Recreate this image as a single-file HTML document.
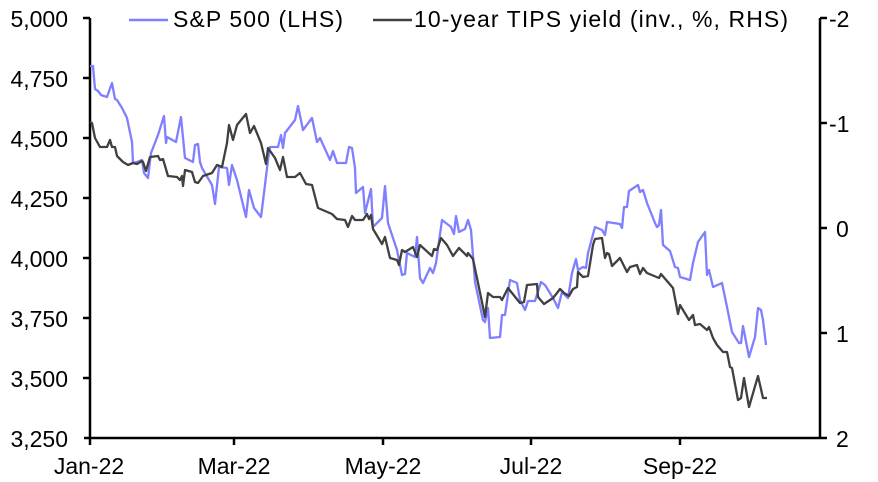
<!DOCTYPE html>
<html><head><meta charset="utf-8"><style>
html,body{margin:0;padding:0;background:#fff;}
svg{display:block;font-family:"Liberation Sans",sans-serif;}
</style></head><body>
<svg width="878" height="482" viewBox="0 0 878 482">
<g stroke="#000" stroke-width="2.5" fill="none">
<line x1="90" y1="18" x2="90" y2="439"/>
<line x1="820" y1="18" x2="820" y2="439"/>
<line x1="84" y1="438" x2="820" y2="438"/>
<line x1="83" y1="18" x2="90" y2="18"/><line x1="83" y1="78" x2="90" y2="78"/><line x1="83" y1="138" x2="90" y2="138"/><line x1="83" y1="198" x2="90" y2="198"/><line x1="83" y1="258" x2="90" y2="258"/><line x1="83" y1="318" x2="90" y2="318"/><line x1="83" y1="378" x2="90" y2="378"/>
<line x1="820" y1="18" x2="827" y2="18"/><line x1="820" y1="123" x2="827" y2="123"/><line x1="820" y1="228" x2="827" y2="228"/><line x1="820" y1="333" x2="827" y2="333"/><line x1="820" y1="438" x2="827" y2="438"/>
<line x1="90" y1="438" x2="90" y2="445"/><line x1="234" y1="438" x2="234" y2="445"/><line x1="383" y1="438" x2="383" y2="445"/><line x1="531" y1="438" x2="531" y2="445"/><line x1="680" y1="438" x2="680" y2="445"/>
</g>
<g font-size="23" fill="#000" text-anchor="end">
<text x="68" y="27">5,000</text><text x="68" y="87">4,750</text><text x="68" y="147">4,500</text><text x="68" y="207">4,250</text><text x="68" y="267">4,000</text><text x="68" y="327">3,750</text><text x="68" y="387">3,500</text><text x="68" y="447">3,250</text>
</g>
<g font-size="23" fill="#000">
<text x="829" y="27">-2</text><text x="829" y="132">-1</text><text x="836" y="237">0</text><text x="836" y="342">1</text><text x="836" y="447">2</text>
</g>
<g font-size="23" fill="#000" text-anchor="middle">
<text x="89" y="474">Jan-22</text><text x="234" y="474">Mar-22</text><text x="383" y="474">May-22</text><text x="531" y="474">Jul-22</text><text x="680" y="474">Sep-22</text>
</g>
<line x1="129" y1="20" x2="168" y2="20" stroke="#7f7fff" stroke-width="2.5"/>
<text x="173" y="27" font-size="23" textLength="170">S&amp;P 500 (LHS)</text>
<line x1="373" y1="20" x2="412" y2="20" stroke="#404040" stroke-width="2.5"/>
<text x="414" y="27" font-size="23" textLength="374">10-year TIPS yield (inv., %, RHS)</text>
<polyline fill="none" stroke="#7f7fff" stroke-width="2.3" stroke-linejoin="round" points="90,66 93,66 95,89 98,91 101,95 107,97 112,83 115,99 117,100 122,108 127,118 132,142 133,163 137,162 142,160 144,173 148,178 151,153 158,135 164,116 166,143 167,137 176,142 181,117 185,158 193,162 195,145 198,144 200,162 202,168 212,185 215,204 219,167 227,168 229,185 232,165 237,180 246,217 249,190 254,208 261,217 264,193 268,160 270,147 278,147 281,135 283,148 285,133 295,120 298,106 303,130 312,118 317,142 320,138 330,160 333,151 337,163 346,163 349,147 352,148 355,168 356,193 363,187 365,213 371,189 373,227 382,218 385,186 388,223 397,250 402,275 405,274 407,253 415,257 417,237 420,278 423,283 430,268 433,273 436,263 442,220 451,227 454,234 456,216 459,232 465,229 468,220 471,230 475,282 483,320 485,322 488,308 490,338 500,337 502,315 505,315 510,280 517,283 520,300 525,310 528,301 535,301 541,282 545,285 553,298 558,308 562,292 568,298 572,273 576,259 578,270 583,267 586,268 588,253 595,227 602,230 605,235 607,222 620,224 622,228 624,207 627,207 629,191 638,185 640,192 643,190 647,203 655,223 657,227 659,225 661,210 663,245 670,251 675,267 678,268 680,277 690,280 693,263 698,242 705,232 707,275 709,270 713,287 722,283 727,307 732,332 739,343 741,343 743,326 749,357 755,337 758,308 761,310 763,320 766,345"/>
<polyline fill="none" stroke="#404040" stroke-width="2.3" stroke-linejoin="round" points="90,122 92,123 95,138 100,147 107,147 110,140 112,147 115,147 117,156 123,162 128,165 133,163 137,164 142,161 143,162 146,171 150,157 158,156 160,160 163,159 168,176 177,177 180,180 182,176 183,186 185,170 192,172 195,182 198,183 203,176 212,173 217,165 222,167 227,143 229,125 233,140 237,125 246,114 250,133 254,126 261,143 266,164 268,148 275,158 280,170 283,157 287,177 295,177 300,173 306,184 312,185 318,208 325,211 332,214 337,219 345,220 348,227 352,216 355,220 363,220 367,214 369,219 371,215 373,229 382,244 385,237 390,258 397,260 399,265 402,250 405,252 413,247 417,257 420,245 432,256 434,249 437,250 441,238 447,245 453,256 459,248 467,256 468,253 473,259 483,307 485,317 488,293 493,297 500,297 502,300 508,288 520,303 524,302 527,285 537,284 538,297 544,304 553,298 557,293 560,289 564,293 569,296 573,289 577,287 578,272 583,277 588,276 593,245 595,239 602,238 605,258 607,253 609,254 612,266 620,258 627,272 630,267 637,265 640,274 643,268 647,273 659,278 661,274 673,288 678,314 680,305 689,320 693,315 695,325 700,324 707,330 709,327 713,338 717,345 723,352 727,352 730,367 732,368 738,400 741,398 744,378 749,407 758,376 763,398 767,398"/>
</svg>
</body></html>
